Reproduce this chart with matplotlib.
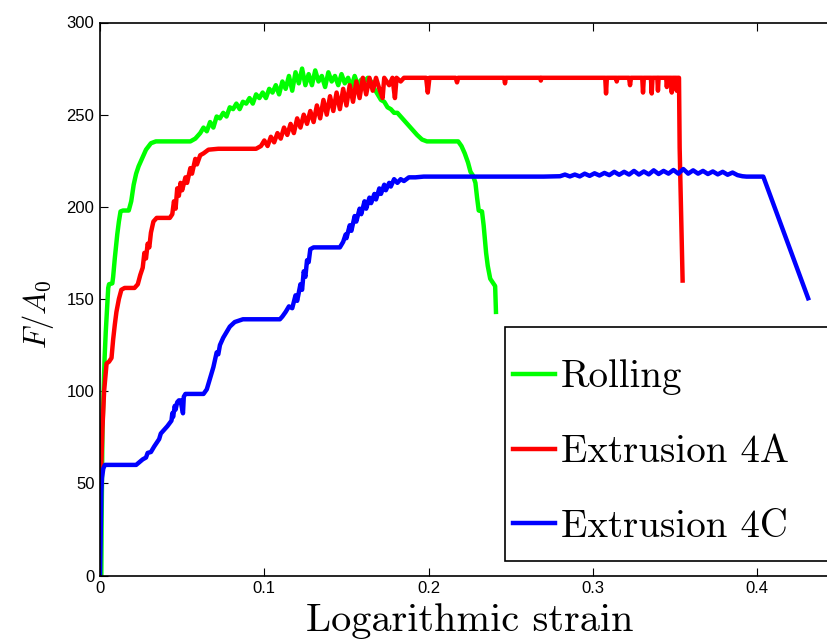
import matplotlib
matplotlib.use("Agg")
import matplotlib.pyplot as plt
from matplotlib.patches import Rectangle

plt.rcParams['mathtext.fontset'] = 'cm'

# ---------------- data ----------------
rolling_strain = [0.0008, 0.001, 0.0013, 0.0015, 0.0022, 0.0028, 0.0035, 0.0045, 0.005, 0.0055,
                  0.0075, 0.008, 0.009, 0.0105, 0.0115, 0.0125, 0.014, 0.0175, 0.019, 0.0205,
                  0.022, 0.0235, 0.026, 0.028, 0.031, 0.034, 0.045, 0.055, 0.058, 0.061,
                  0.063, 0.065, 0.067, 0.069, 0.071, 0.073, 0.075, 0.077, 0.079, 0.081,
                  0.083, 0.085, 0.087, 0.089, 0.091, 0.093, 0.095, 0.097, 0.099, 0.101,
                  0.103, 0.105, 0.107, 0.109, 0.111, 0.113, 0.115, 0.117, 0.119, 0.121,
                  0.123, 0.125, 0.127, 0.129, 0.131, 0.133, 0.135, 0.137, 0.139, 0.141,
                  0.143, 0.145, 0.147, 0.149, 0.151, 0.153, 0.155, 0.157, 0.159, 0.161,
                  0.163, 0.165, 0.167, 0.169, 0.171, 0.173, 0.175, 0.177, 0.179, 0.181,
                  0.183, 0.185, 0.187, 0.189, 0.191, 0.193, 0.196, 0.199, 0.21, 0.218,
                  0.22, 0.222, 0.224, 0.2255, 0.227, 0.2285, 0.2295, 0.2305, 0.2325, 0.2335,
                  0.235, 0.236, 0.2375, 0.239, 0.2405, 0.241]
rolling_stress = [0, 30, 60, 80, 100, 118, 132, 148, 156, 158,
                  158.5, 162, 172, 185, 192, 197.5, 198, 198, 203, 212,
                  218, 222, 227, 231, 234.5, 235.5, 235.5, 235.5, 237, 240,
                  243, 241, 246, 243, 249, 248, 251, 249, 254, 253,
                  256, 253, 257, 256, 259, 256, 261, 259, 262, 259,
                  264, 262, 266, 261, 268, 264, 271, 263, 273, 267,
                  275, 266, 272, 266, 274, 268, 271, 265, 273, 268,
                  271, 266, 272, 267, 270, 265, 271, 266, 269, 268,
                  270, 268, 264, 261, 258, 257, 254, 253, 251, 251,
                  249, 247, 245, 243, 241, 239, 236.5, 235.5, 235.5, 235.5,
                  233, 229, 224, 219, 217, 213, 205, 198, 197.5, 190,
                  175, 168, 161, 159, 157, 143]

ext4a_strain = [0.0, 0.0008, 0.0015, 0.0025, 0.004, 0.0055, 0.007, 0.008, 0.009, 0.010,
                0.0115, 0.013, 0.015, 0.021, 0.023, 0.0245, 0.026, 0.027, 0.028, 0.029,
                0.030, 0.031, 0.0325, 0.0345, 0.0425, 0.044, 0.045, 0.046, 0.047, 0.048,
                0.049, 0.050, 0.052, 0.053, 0.055, 0.056, 0.058, 0.059, 0.061, 0.063,
                0.066, 0.072, 0.095, 0.098, 0.100, 0.102, 0.104, 0.106, 0.108, 0.110,
                0.112, 0.114, 0.116, 0.118, 0.120, 0.122, 0.124, 0.126, 0.128, 0.130,
                0.132, 0.134, 0.136, 0.138, 0.140, 0.142, 0.144, 0.146, 0.148, 0.150,
                0.152, 0.154, 0.156, 0.158, 0.160, 0.162, 0.164, 0.166, 0.168, 0.170,
                0.172, 0.173, 0.176, 0.178, 0.1795, 0.1805, 0.183, 0.185, 0.1985, 0.1995,
                0.2005, 0.2165, 0.2173, 0.218, 0.246, 0.2465, 0.247, 0.268, 0.2683, 0.2687,
                0.3075, 0.308, 0.3085, 0.314, 0.3145, 0.315, 0.322, 0.3226, 0.3232, 0.330,
                0.3305, 0.331, 0.3353, 0.3358, 0.3363, 0.3392, 0.3396, 0.340, 0.3446, 0.345,
                0.3455, 0.3475, 0.348, 0.3485, 0.3505, 0.351, 0.3515, 0.3524, 0.3528, 0.3546]
ext4a_stress = [46, 60, 80, 100, 115, 116, 118, 128, 136, 143,
                150, 155, 156, 156, 158, 163, 167, 175, 172, 180,
                178, 186, 192, 194, 194, 196, 203, 199, 210, 206,
                213, 209, 216, 213, 221, 218, 226, 223, 228, 229,
                231, 231.5, 231.5, 233, 236, 233, 238, 235, 240, 237,
                243, 239, 245, 240, 248, 243, 250, 245, 252, 246,
                255, 248, 258, 250, 260, 252, 262, 253, 264, 255,
                266, 257, 268, 259, 270, 261, 270, 263, 270, 264,
                259, 270, 266, 270, 259, 270, 268, 270, 270, 262,
                270, 270, 267.5, 270, 270, 267, 270, 270, 268.5, 270,
                270, 261.5, 270, 270, 268, 270, 270, 266, 270, 270,
                262, 270, 270, 261.5, 270, 270, 263, 270, 270, 265,
                270, 270, 262, 270, 270, 263, 270, 270, 232, 160]

ext4c_strain = [0.0, 0.0004, 0.0008, 0.0012, 0.002, 0.003, 0.010, 0.022, 0.024, 0.026,
                0.028, 0.029, 0.031, 0.033, 0.0345, 0.036, 0.037, 0.039, 0.041, 0.0435,
                0.044, 0.0445, 0.0455, 0.046, 0.047, 0.048, 0.049, 0.0505, 0.051, 0.052,
                0.063, 0.065, 0.067, 0.069, 0.070, 0.071, 0.072, 0.073, 0.075, 0.077,
                0.079, 0.082, 0.087, 0.1095, 0.111, 0.113, 0.115, 0.117, 0.119, 0.120,
                0.122, 0.123, 0.124, 0.125, 0.126, 0.127, 0.128, 0.130, 0.146, 0.148,
                0.1495, 0.150, 0.152, 0.153, 0.155, 0.156, 0.158, 0.159, 0.161, 0.162,
                0.164, 0.165, 0.167, 0.168, 0.170, 0.171, 0.173, 0.174, 0.176, 0.177,
                0.179, 0.181, 0.183, 0.185, 0.188, 0.192, 0.197, 0.25, 0.27, 0.28,
                0.283, 0.286, 0.289, 0.292, 0.295, 0.298, 0.301, 0.304, 0.307, 0.310,
                0.313, 0.316, 0.319, 0.322, 0.325, 0.328, 0.331, 0.334, 0.337, 0.340,
                0.343, 0.346, 0.349, 0.352, 0.355, 0.358, 0.361, 0.364, 0.367, 0.370,
                0.373, 0.376, 0.379, 0.382, 0.385, 0.388, 0.391, 0.3935, 0.4037, 0.431]
ext4c_stress = [0, 20, 45, 53, 58, 60, 60, 60, 61.5, 63,
                64, 66.5, 67, 70, 72, 74, 77, 79, 81, 84,
                88, 86, 92, 90, 94, 95, 95, 88, 97, 98.5,
                98.5, 101, 107, 113, 117, 121, 120, 125, 129, 132,
                135, 137.5, 139, 139, 140.5, 143, 146, 145, 152, 149,
                158, 155, 165, 162, 171, 170, 177, 178, 178, 181,
                185, 183, 190, 187, 195, 192, 199, 196, 203, 199,
                205, 202, 207, 204, 210, 207, 212, 209, 213, 211,
                215, 213, 215, 214, 216, 216, 216.4, 216.4, 216.4, 216.6,
                217.5, 216.5, 217.5, 216.5, 218, 216.8, 218.2, 217, 218.4, 217.2,
                219, 217.4, 219, 217.5, 219.5, 217.5, 219.2, 217.6, 219.8, 217.8,
                219.5, 218, 220, 218, 220.5, 218, 219.8, 218, 219.5, 217.8,
                219.2, 217.6, 219, 217.4, 218.6, 217.2, 216.6, 216.4, 216.4, 150.4]

series_labels = ['Rolling', 'Extrusion 4A', 'Extrusion 4C']
x_ticks = [0, 0.1, 0.2, 0.3, 0.4]
x_tick_labels = ['0', '0.1', '0.2', '0.3', '0.4']
y_ticks = [0, 50, 100, 150, 200, 250, 300]

# ---------------- figure ----------------
W, H = 828, 642
fig = plt.figure(figsize=(W / 100, H / 100), dpi=100)
fig.patch.set_facecolor('white')

xmax = 0.45
px_per_unit = 1643.0
ax_left, ax_bottom = 100, 642 - 575.5
ax_w = xmax * px_per_unit
ax_h = 553
ax = fig.add_axes([ax_left / W, ax_bottom / H, ax_w / W, ax_h / H])

lw = 3.2
ax.plot(rolling_strain, rolling_stress, color='#00ff00', lw=lw, label=series_labels[0], solid_joinstyle='round')
ax.plot(ext4a_strain, ext4a_stress, color='#ff0000', lw=lw, label=series_labels[1], solid_joinstyle='round')
ax.plot(ext4c_strain, ext4c_stress, color='#0000ff', lw=lw, label=series_labels[2], solid_joinstyle='round')

ax.set_xlim(0, xmax)
ax.set_ylim(0, 300)
ax.set_xticks(x_ticks)
ax.set_xticklabels(x_tick_labels)
ax.set_yticks(y_ticks)
for lab in ax.get_xticklabels() + ax.get_yticklabels():
    lab.set_fontfamily('Liberation Sans')
    lab.set_fontsize(12)
ax.tick_params(direction='in', length=6, width=0.8, top=True, right=True, pad=4)
for s in ax.spines.values():
    s.set_linewidth(1.2)

ax.set_xlabel('Logarithmic strain', fontfamily='cmr10', fontsize=29, labelpad=5)
ax.set_ylabel(r'$F/A_0$', fontsize=22)
ax.yaxis.set_label_coords(-44 / ax_w, (575.5 - 314) / ax_h)

# legend frame (extends past the right edge of the figure, as in the reference)
frame = Rectangle((505 / W, (642 - 561) / H), 340 / W, 234 / H, transform=fig.transFigure,
                  facecolor='white', edgecolor='black', linewidth=1.2, zorder=5)
fig.add_artist(frame)

leg = fig.legend(loc='upper left', bbox_to_anchor=(499 / W, (642 - 346) / H),
                 prop={'family': 'cmr10', 'size': 28}, frameon=False,
                 handlelength=1.1, handletextpad=0.15,
                 labelspacing=1.0, borderpad=0.35, borderaxespad=0)
leg.set_zorder(6)

fig.savefig('out.png', dpi=100)
